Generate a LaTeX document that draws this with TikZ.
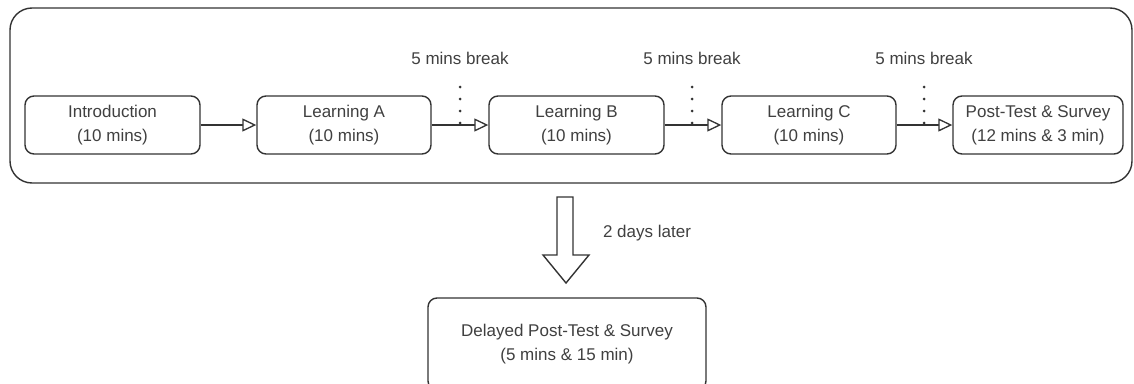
\documentclass[tikz,border=0pt]{standalone}
\usepackage{fontspec}
\setmainfont{Liberation Sans}
\usetikzlibrary{arrows.meta}
\definecolor{ink}{HTML}{333333}
\definecolor{txt}{HTML}{404040}
\tikzset{
  stepbox/.style={draw=ink, line width=1.4pt, rounded corners=9pt, fill=white,
    minimum height=58pt, inner sep=0pt, align=center, text=txt,
    font=\fontsize{17}{24}\selectfont},
  flow/.style={draw=ink, line width=1.3pt, -{Triangle[open, length=14pt, width=13pt, fill=white]}},
  brk/.style={draw=ink, line width=3pt, line cap=round, dash pattern=on 0pt off 12pt},
  lbl/.style={text=txt, font=\fontsize{17}{24}\selectfont, inner sep=0pt}
}
\begin{document}
\begin{tikzpicture}[x=1pt,y=-1pt]
\useasboundingbox (0,0) rectangle (1134,383);
\clip (0,0) rectangle (1134,383);
% outer container
\draw[ink, line width=1.4pt, rounded corners=22pt] (10,8) rectangle (1132,183);
% steps
\node[stepbox, minimum width=175pt] (intro) at (112.5,125) {Introduction\\(10 mins)};
\node[stepbox, minimum width=174pt] (la) at (344,125) {Learning A\\(10 mins)};
\node[stepbox, minimum width=175pt] (lb) at (576.5,125) {Learning B\\(10 mins)};
\node[stepbox, minimum width=174pt] (lc) at (809,125) {Learning C\\(10 mins)};
\node[stepbox, minimum width=170pt] (post) at (1038,125) {Post-Test \& Survey\\(12 mins \& 3 min)};
\node[stepbox, minimum width=278pt, minimum height=92pt] (delayed) at (567,344) {Delayed Post-Test \& Survey\\(5 mins \& 15 min)};
% connectors
\draw[flow] (intro.east) -- (la.west);
\draw[flow] (la.east) -- (lb.west);
\draw[flow] (lb.east) -- (lc.west);
\draw[flow] (lc.east) -- (post.west);
% breaks
\coordinate (b1t) at (460,87); \coordinate (b1b) at (460,123.5);
\coordinate (b2t) at (692,87); \coordinate (b2b) at (692,123.5);
\coordinate (b3t) at (924,87); \coordinate (b3b) at (924,123.5);
\draw[brk] (b1t) -- (b1b);
\draw[brk] (b2t) -- (b2b);
\draw[brk] (b3t) -- (b3b);
\node[lbl] (t1) at (460,58) {5 mins break};
\node[lbl] (t2) at (692,58) {5 mins break};
\node[lbl] (t3) at (924,58) {5 mins break};
% block arrow
\draw[ink, line width=1.4pt, fill=white, line join=miter]
  (557,197) -- (573,197) -- (573,255) -- (589,255) -- (566,283) -- (543,255) -- (557,255) -- cycle;
\node[lbl] (later) at (647,233) {2 days later};
\end{tikzpicture}
\end{document}
